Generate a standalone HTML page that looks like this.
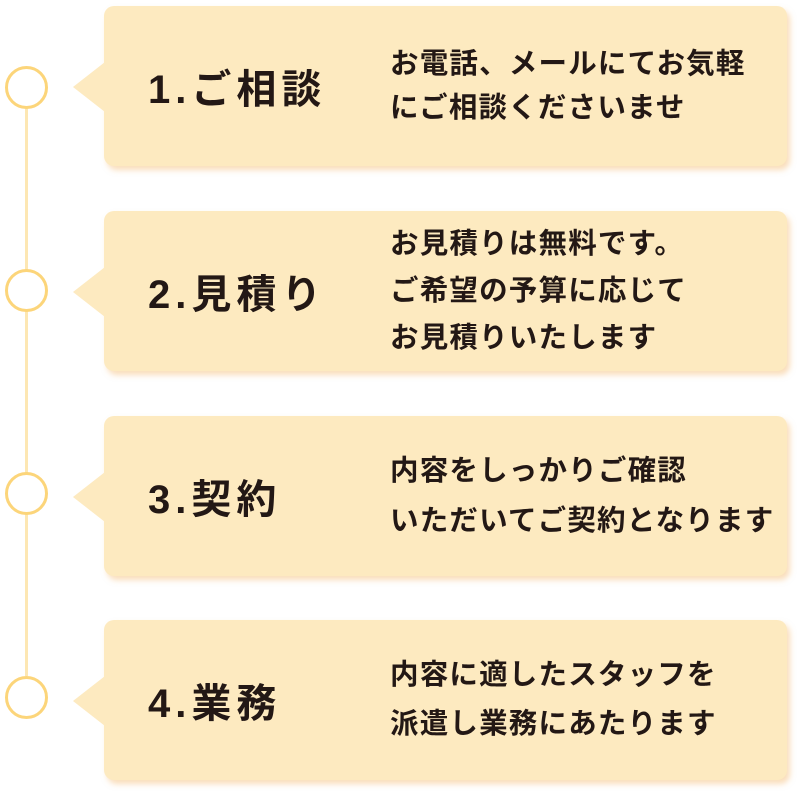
<!DOCTYPE html>
<html><head><meta charset="utf-8"><style>
body{margin:0;width:803px;height:801px;background:#fff;position:relative;overflow:hidden;font-family:"Liberation Sans","Noto Sans CJK JP",sans-serif;color:#231815}
.line{position:absolute;left:25px;top:108px;width:3px;height:568px;background:#fde7b3}
.c{position:absolute;left:5px;width:37px;height:37px;border:3px solid #fcd57a;border-radius:50%;background:#fff}
.box{position:absolute;left:104px;width:683px;height:160px;background:#fdeac0;border-radius:10px;box-shadow:3px 4px 6px rgba(245,190,120,0.5)}
.tri{position:absolute;left:-31px;top:56px;width:0;height:0;border-top:25px solid transparent;border-bottom:25px solid transparent;border-right:32px solid #fdeac0}
.t{position:absolute;left:44px;top:0;height:160px;display:flex;align-items:center;font-size:40px;font-weight:bold;letter-spacing:5px}
.d{position:absolute;left:286px;top:0;height:160px;display:flex;align-items:center;font-size:28.5px;letter-spacing:1.2px;font-weight:600;white-space:nowrap}
</style></head><body>
<div class="line"></div>
<div class="c" style="top:66px"></div>
<div class="c" style="top:269px"></div>
<div class="c" style="top:472px"></div>
<div class="c" style="top:676px"></div>
<div class="box" style="top:6px"><div class="tri"></div><div class="t">1.ご相談</div><div class="d" style="line-height:44px"><div>お電話、メールにてお気軽<br>にご相談くださいませ</div></div></div>
<div class="box" style="top:211px"><div class="tri"></div><div class="t">2.見積り</div><div class="d" style="line-height:47px"><div>お見積りは無料です。<br>ご希望の予算に応じて<br>お見積りいたします</div></div></div>
<div class="box" style="top:416px"><div class="tri"></div><div class="t">3.契約</div><div class="d" style="line-height:50px"><div>内容をしっかりご確認<br>いただいてご契約となります</div></div></div>
<div class="box" style="top:620px"><div class="tri"></div><div class="t">4.業務</div><div class="d" style="line-height:49px"><div>内容に適したスタッフを<br>派遣し業務にあたります</div></div></div>
</body></html>
